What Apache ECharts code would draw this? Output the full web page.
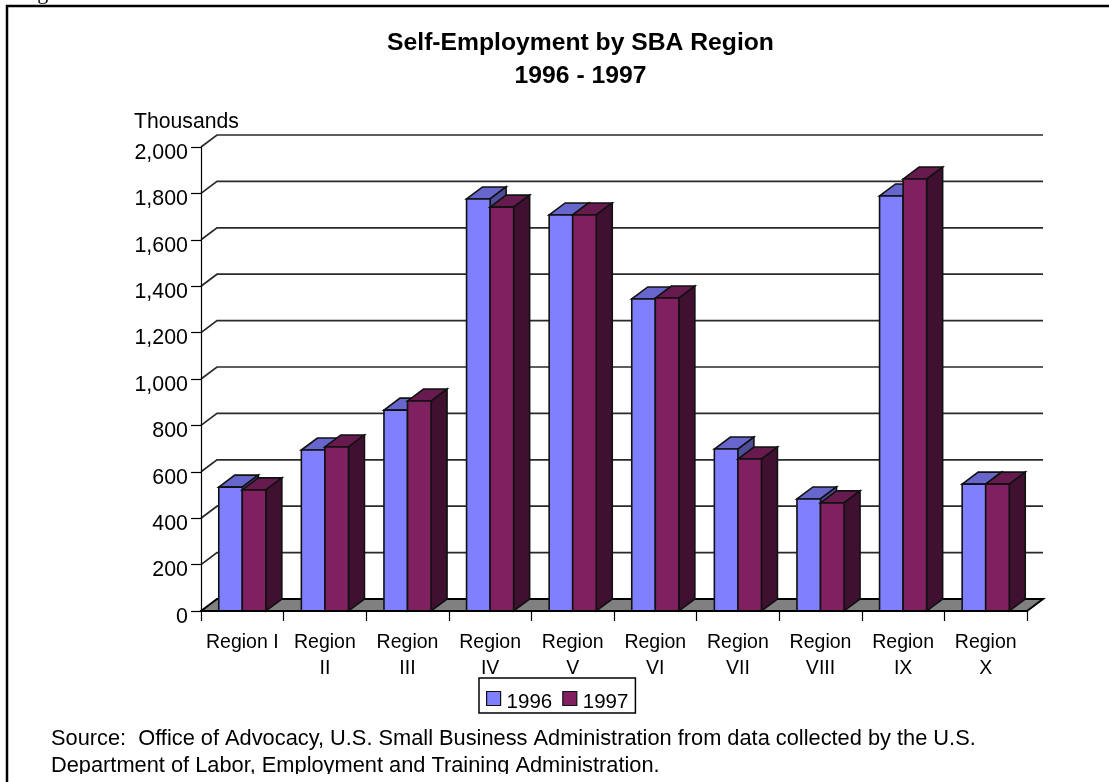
<!DOCTYPE html>
<html>
<head>
<meta charset="utf-8">
<title>Self-Employment by SBA Region</title>
<script src="https://cdn.jsdelivr.net/npm/echarts@6/dist/echarts.min.js"></script>
<style>
  html, body { margin: 0; padding: 0; background: #fff; }
  #chart { width: 1109px; height: 782px; }
</style>
</head>
<body>
<div id="chart"></div>
<script>
const categories = ['Region I', 'Region\nII', 'Region\nIII', 'Region\nIV', 'Region\nV', 'Region\nVI', 'Region\nVII', 'Region\nVIII', 'Region\nIX', 'Region\nX'];
const values1996 = [534, 694, 866, 1776, 1707, 1345, 698, 483, 1789, 547];
const values1997 = [522, 707, 905, 1741, 1707, 1349, 655, 466, 1862, 547];
const yTicks = [0, 200, 400, 600, 800, 1000, 1200, 1400, 1600, 1800, 2000];

const FONT = '"Liberation Sans", Arial, sans-serif';
const DEPTH_X = 16;
const DEPTH_Y = 12;
const BAR_SHARE = 0.285;

// front / top / side shades of the fake 3D columns
const shades = {
  1996: { front: '#8080ff', top: '#6666cc', side: '#4d4d99' },
  1997: { front: '#802060', top: '#661a4d', side: '#401030' }
};

const renderBar = (year, side) => (params, api) => {
  const top = api.coord([api.value(0), api.value(1)]);
  const base = api.coord([api.value(0), 0]);
  const w = api.size([1, 0])[0] * BAR_SHARE;
  const x0 = side < 0 ? top[0] - w : top[0];
  const x1 = x0 + w;
  const line = { stroke: '#111', lineWidth: 1.6 };
  const c = shades[year];
  return {
    type: 'group',
    children: [
      {
        type: 'polygon',
        shape: { points: [[x0, top[1]], [x0 + DEPTH_X, top[1] - DEPTH_Y], [x1 + DEPTH_X, top[1] - DEPTH_Y], [x1, top[1]]] },
        style: { fill: c.top, ...line }
      },
      {
        type: 'polygon',
        shape: { points: [[x1, top[1]], [x1 + DEPTH_X, top[1] - DEPTH_Y], [x1 + DEPTH_X, base[1] - DEPTH_Y], [x1, base[1]]] },
        style: { fill: c.side, ...line }
      },
      {
        type: 'rect',
        shape: { x: x0, y: top[1], width: w, height: base[1] - top[1] },
        style: { fill: c.front, ...line }
      }
    ]
  };
};

// back wall gridlines and the grey floor
const renderWall = (params, api) => {
  const v = api.value(1);
  const y = api.coord([0, v])[1];
  const left = params.coordSys.x;
  const right = left + params.coordSys.width;
  if (v === 0) {
    return {
      type: 'polygon',
      shape: { points: [[left, y], [left + DEPTH_X, y - DEPTH_Y], [right + DEPTH_X, y - DEPTH_Y], [right, y]] },
      style: { fill: '#808080', stroke: '#000', lineWidth: 2 }
    };
  }
  return {
    type: 'polyline',
    shape: { points: [[left, y], [left + DEPTH_X, y - DEPTH_Y], [right + DEPTH_X, y - DEPTH_Y]] },
    style: { fill: 'none', stroke: '#2a2a2a', lineWidth: 1.7 }
  };
};

const chart = echarts.init(document.getElementById('chart'), null, { renderer: 'canvas' });

chart.setOption({
  animation: false,
  backgroundColor: '#fff',
  textStyle: { fontFamily: FONT, color: '#000' },
  title: [
    {
      text: 'Self-Employment by SBA Region\n1996 - 1997',
      left: 575.5, top: 22, textAlign: 'center',
      textStyle: { fontFamily: FONT, fontSize: 24.7, fontWeight: 'bold', lineHeight: 33, color: '#000' }
    },
    {
      text: 'Thousands',
      left: 134, top: 112, padding: 0,
      textStyle: { fontFamily: FONT, fontSize: 21.2, fontWeight: 'normal', color: '#000' }
    },
    {
      text: 'Source:  Office of Advocacy, U.S. Small Business Administration from data collected by the U.S.\nDepartment of Labor, Employment and Training Administration.',
      left: 51, top: 725, padding: 0,
      textStyle: { fontFamily: FONT, fontSize: 21.8, fontWeight: 'normal', lineHeight: 27.5, color: '#000' }
    }
  ],
  grid: { left: 201, right: 82, top: 147, height: 464 },
  legend: {
    data: ['1996', '1997'],
    left: 479, top: 678,
    padding: [6.5, 7, 0.5, 7],
    icon: 'rect',
    itemWidth: 14, itemHeight: 14, itemGap: 10,
    borderColor: '#000', borderWidth: 1.5,
    itemStyle: { borderColor: '#111', borderWidth: 1.2 },
    formatter: '{t|{name}}',
    textStyle: {
      fontFamily: FONT, color: '#000',
      rich: { t: { fontFamily: FONT, fontSize: 20.5, lineHeight: 16, color: '#000', padding: [7, 0, 0, 1] } }
    }
  },
  xAxis: {
    type: 'category',
    data: categories,
    z: 10,
    axisLine: { lineStyle: { color: '#000', width: 2 } },
    axisTick: { show: true, length: 10, alignWithLabel: false, lineStyle: { color: '#000', width: 1.2 } },
    axisLabel: { interval: 0, margin: 18, fontFamily: FONT, fontSize: 19.5, lineHeight: 26.5, color: '#000' }
  },
  yAxis: {
    type: 'value',
    min: 0, max: 2000, interval: 200,
    z: 10,
    splitLine: { show: false },
    axisLine: { show: true, lineStyle: { color: '#000', width: 1.2 } },
    axisTick: { show: true, length: 10, lineStyle: { color: '#000', width: 1.2 } },
    axisLabel: {
      margin: 13, fontFamily: FONT, fontSize: 21.4, color: '#000',
      // labels sit a little below their ticks in the reference
      verticalAlign: 'top', lineHeight: 12,
      formatter: (v) => v.toLocaleString('en-US')
    }
  },
  series: [
    {
      type: 'custom', name: 'wall', silent: true, clip: false, z: 1,
      renderItem: renderWall,
      data: yTicks.map((v) => [0, v])
    },
    {
      type: 'custom', name: '1996', clip: false, z: 2,
      itemStyle: { color: shades[1996].front },
      renderItem: renderBar(1996, -1),
      data: values1996.map((v, i) => [i, v])
    },
    {
      type: 'custom', name: '1997', clip: false, z: 3,
      itemStyle: { color: shades[1997].front },
      renderItem: renderBar(1997, 1),
      data: values1997.map((v, i) => [i, v])
    }
  ],
  graphic: [
    // outer frame runs off the right and bottom of the page
    {
      type: 'polyline', z: 100, silent: true,
      shape: { points: [[7, 782], [7, 6], [1109, 6]] },
      style: { fill: 'none', stroke: '#000', lineWidth: 2.5 }
    },
    // caption above the frame, only its descender is on the page
    {
      type: 'text', z: 100, silent: true, left: 19, top: -18,
      style: { text: 'Figure', font: '22px "Liberation Serif", serif', fill: '#000' }
    },
    // source note is cut off by the page crop
    {
      type: 'rect', z: 100, silent: true,
      shape: { x: 9, y: 774, width: 1100, height: 8 },
      style: { fill: '#fff' }
    }
  ]
});
</script>
</body>
</html>
